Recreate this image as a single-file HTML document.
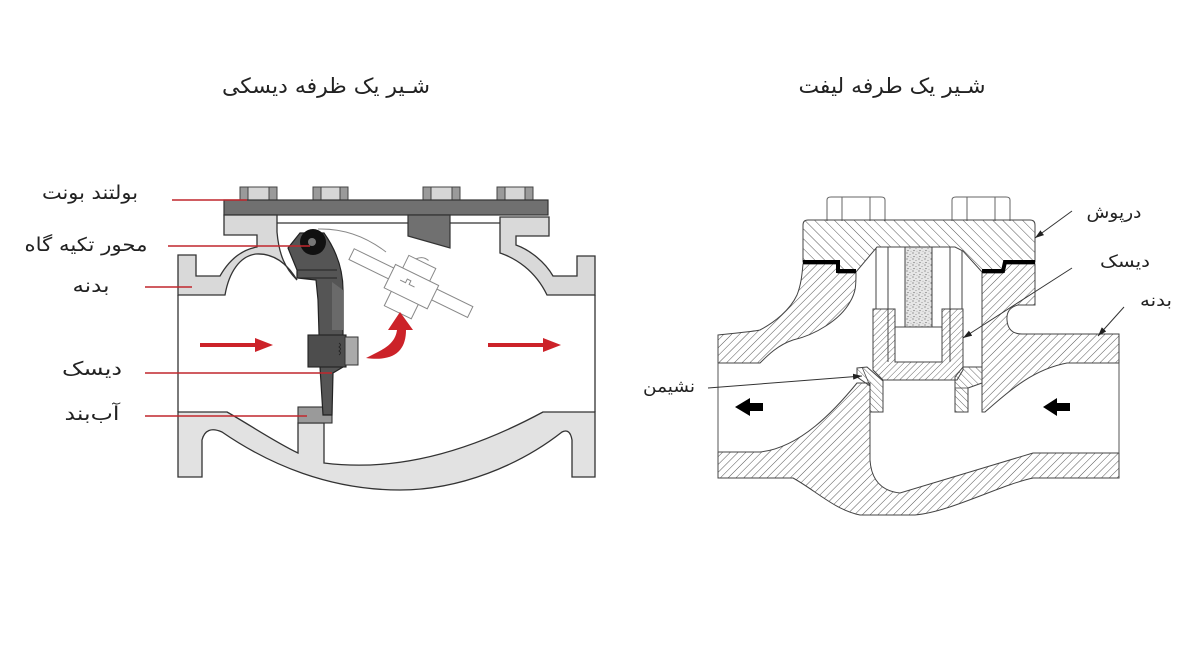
<!DOCTYPE html>
<html>
<head>
<meta charset="utf-8">
<style>
  html,body{margin:0;padding:0;background:#fff;}
  #wrap{width:1200px;height:653px;position:relative;overflow:hidden;background:#fff;}
  svg text{font-family:"DejaVu Sans","Liberation Sans",sans-serif;fill:#222;}
</style>
</head>
<body>
<div id="wrap">
<svg width="1200" height="653" viewBox="0 0 1200 653" xmlns="http://www.w3.org/2000/svg">
  <defs>
    <pattern id="hBody" width="5.5" height="5.5" patternUnits="userSpaceOnUse" patternTransform="rotate(45)">
      <line x1="0" y1="0" x2="0" y2="5.5" stroke="#444" stroke-width="0.9"/>
    </pattern>
    <pattern id="hBon" width="7" height="7" patternUnits="userSpaceOnUse" patternTransform="rotate(-45)">
      <line x1="0" y1="0" x2="0" y2="7" stroke="#444" stroke-width="0.9"/>
    </pattern>
    <pattern id="hDisc" width="4.5" height="4.5" patternUnits="userSpaceOnUse" patternTransform="rotate(45)">
      <line x1="0" y1="0" x2="0" y2="4.5" stroke="#444" stroke-width="0.8"/>
    </pattern>
    <pattern id="hRing" width="5" height="5" patternUnits="userSpaceOnUse" patternTransform="rotate(-45)">
      <line x1="0" y1="0" x2="0" y2="5" stroke="#444" stroke-width="0.8"/>
    </pattern>
    <pattern id="stip" width="6" height="6" patternUnits="userSpaceOnUse">
      <rect width="6" height="6" fill="#e6e6e6"/>
      <circle cx="1" cy="1" r="0.6" fill="#666"/>
      <circle cx="4" cy="2.5" r="0.55" fill="#888"/>
      <circle cx="2" cy="4.6" r="0.55" fill="#555"/>
      <circle cx="5" cy="5.3" r="0.45" fill="#999"/>
    </pattern>
    <marker id="ah" markerWidth="9" markerHeight="6" refX="9" refY="3" orient="auto" markerUnits="userSpaceOnUse">
      <path d="M0,0 L9,3 L0,6 Z" fill="#222"/>
    </marker>
  </defs>

  <!-- ================= TITLES ================= -->
  <text x="326" y="93" font-size="21" text-anchor="middle" textLength="208" lengthAdjust="spacingAndGlyphs">شـیر یک ظرفه دیسکی</text>
  <text x="892" y="93" font-size="21" text-anchor="middle" textLength="187" lengthAdjust="spacingAndGlyphs">شـیر یک طرفه لیفت</text>

  <!-- ================= LEFT DIAGRAM ================= -->
  <!-- bolts -->
  <g stroke="#444" stroke-width="1">
    <rect x="240" y="187" width="37" height="13" fill="#d6d6d6"/>
    <rect x="240" y="187" width="8" height="13" fill="#9a9a9a"/>
    <rect x="269" y="187" width="8" height="13" fill="#9a9a9a"/>
    <rect x="313" y="187" width="35" height="13" fill="#d6d6d6"/>
    <rect x="313" y="187" width="8" height="13" fill="#9a9a9a"/>
    <rect x="340" y="187" width="8" height="13" fill="#9a9a9a"/>
    <rect x="423" y="187" width="37" height="13" fill="#d6d6d6"/>
    <rect x="423" y="187" width="8" height="13" fill="#9a9a9a"/>
    <rect x="452" y="187" width="8" height="13" fill="#9a9a9a"/>
    <rect x="497" y="187" width="36" height="13" fill="#d6d6d6"/>
    <rect x="497" y="187" width="8" height="13" fill="#9a9a9a"/>
    <rect x="525" y="187" width="8" height="13" fill="#9a9a9a"/>
  </g>
  <!-- bonnet -->
  <rect x="224" y="200" width="324" height="15" fill="#707070" stroke="#333" stroke-width="1.2"/>
  <polygon points="408,215 450,215 450,248 408,236" fill="#707070" stroke="#333" stroke-width="1.2"/>

  <!-- body upper-left -->
  <path d="M178,255 L196,255 L196,276 L220,276 C228,262 240,250 257,247 L257,235 L224,235 L224,215 L277,215 L277,232 C279,255 285,268 297,280 C288,265 275,253 256,254 C240,256 229,272 225,295 L178,295 Z" fill="#d9d9d9" stroke="#333" stroke-width="1.3"/>
  <!-- body upper-right -->
  <path d="M500,217 L549,217 L549,236 L516,236 L516,245 C530,250 545,262 553,276 L577,276 L577,256 L595,256 L595,295 L547,295 C535,270 515,258 500,253 Z" fill="#d9d9d9" stroke="#333" stroke-width="1.3"/>
  <!-- body lower -->
  <path d="M178,412 L227,412 C250,425 275,442 298,453 L298,423 L324,423 L324,463 C380,470 450,462 543,412 L595,412 L595,477 L572,477 L572,440 Q570,428 562,432 C520,465 460,490 400,490 C330,490 270,465 222,432 Q206,425 202,440 L202,477 L178,477 Z" fill="#e2e2e2" stroke="#333" stroke-width="1.3"/>
  <!-- pipe face lines -->
  <line x1="178" y1="295" x2="178" y2="412" stroke="#333" stroke-width="1.3"/>
  <line x1="595" y1="295" x2="595" y2="412" stroke="#333" stroke-width="1.3"/>
  <line x1="277" y1="223" x2="408" y2="223" stroke="#333" stroke-width="1.2"/>
  <line x1="450" y1="223" x2="500" y2="223" stroke="#333" stroke-width="1.2"/>

  <!-- ghost open disc -->
  <path d="M318,229 Q355,228 386,252" fill="none" stroke="#888" stroke-width="1"/>
  <g transform="translate(313,242) rotate(26)" fill="#fff" stroke="#888" stroke-width="1">
    <rect x="40" y="-12" width="132" height="12"/>
    <rect x="92" y="-30" width="30" height="56"/>
    <rect x="84" y="-16" width="48" height="26"/>
    <path d="M100,-30 q5,-6 12,-4" fill="none"/>
    <path d="M95,-4 l6,0 l0,-4 l4,0 l0,4 l6,0" fill="none"/>
  </g>

  <!-- seat -->
  <rect x="298" y="407" width="34" height="16" fill="#9a9a9a" stroke="#333" stroke-width="1.1"/>
  <!-- disc arm -->
  <path d="M288,248 L300,233 L324,233 C336,250 343,268 343,290 L343,367 L333,373 L332,415 L323,415 L320,367 L318,300 L316,280 L297,278 L297,270 Z" fill="#555" stroke="#222" stroke-width="1.2"/>
  <path d="M332,282 L343,290 L343,330 L332,330 Z" fill="#6a6a6a"/>
  <line x1="297" y1="270" x2="337" y2="270" stroke="#222" stroke-width="1"/>
  <line x1="297" y1="278" x2="337" y2="278" stroke="#222" stroke-width="1"/>
  <rect x="308" y="335" width="38" height="32" fill="#4d4d4d" stroke="#222" stroke-width="1.1"/>
  <rect x="345" y="337" width="13" height="28" fill="#aaa" stroke="#333" stroke-width="1"/>
  <path d="M339,343 q3,2 0,4 q3,2 0,4 q3,2 0,4" fill="none" stroke="#222" stroke-width="0.8"/>
  <!-- pivot -->
  <circle cx="313" cy="242" r="13" fill="#111"/>
  <circle cx="312" cy="242" r="4" fill="#777"/>

  <!-- red arrows -->
  <g fill="#cc2229">
    <rect x="200" y="343" width="57" height="4"/>
    <polygon points="255,338 273,345 255,352"/>
    <rect x="488" y="343" width="57" height="4"/>
    <polygon points="543,338 561,345 543,352"/>
    <path d="M366,358 C382,350 395,345 397,330 L388,330 L400,312 L413,330 L406,330 C406,350 395,362 366,358 Z"/>
  </g>

  <!-- red leader lines -->
  <g stroke="#c1272d" stroke-width="1.6">
    <line x1="172" y1="200" x2="247" y2="200"/>
    <line x1="168" y1="246" x2="310" y2="246"/>
    <line x1="145" y1="287" x2="192" y2="287"/>
    <line x1="145" y1="373" x2="332" y2="373"/>
    <line x1="145" y1="416" x2="307" y2="416"/>
  </g>
  <!-- left labels -->
  <text x="90" y="199" font-size="19" text-anchor="middle" textLength="96" lengthAdjust="spacingAndGlyphs">بولتند بونت</text>
  <text x="86" y="251" font-size="19" text-anchor="middle" textLength="123" lengthAdjust="spacingAndGlyphs">محور تکیه گاه</text>
  <text x="91" y="292" font-size="19" text-anchor="middle" textLength="37" lengthAdjust="spacingAndGlyphs">بدنه</text>
  <text x="92" y="375" font-size="19" text-anchor="middle" textLength="60" lengthAdjust="spacingAndGlyphs">دیسک</text>
  <text x="92" y="420" font-size="19" text-anchor="middle" textLength="55" lengthAdjust="spacingAndGlyphs">آب&#8204;بند</text>

  <!-- ================= RIGHT DIAGRAM ================= -->
  <!-- bolts -->
  <g fill="#fff" stroke="#666" stroke-width="1">
    <path d="M827,221 L827,200 Q827,197 831,197 L881,197 Q885,197 885,200 L885,221"/>
    <line x1="842" y1="197" x2="842" y2="221"/>
    <line x1="870" y1="197" x2="870" y2="221"/>
    <path d="M952,221 L952,200 Q952,197 956,197 L1006,197 Q1010,197 1010,200 L1010,221"/>
    <line x1="967" y1="197" x2="967" y2="221"/>
    <line x1="995" y1="197" x2="995" y2="221"/>
  </g>

  <!-- bonnet -->
  <path d="M808,220 L1030,220 Q1035,220 1035,225 L1035,262 L1005,262 L1003,272 L982,272 L963,251 L955,247 L877,247 L856,272 L838,272 L838,262 L803,262 L803,225 Q803,220 808,220 Z" fill="url(#hBon)" stroke="#444" stroke-width="1"/>

  <!-- body upper-left -->
  <path d="M803,264 L838,264 L838,273 L856,273 C856,285 856,292 850,302 C840,320 815,335 793,340 C778,345 768,355 760,363 L718,363 L718,335 C735,333 750,332 760,330 C775,322 790,310 797,295 C801,285 802,275 803,264 Z" fill="url(#hBody)" stroke="#444" stroke-width="1"/>
  <!-- body upper-right -->
  <path d="M982,273 L1003,273 L1005,264 L1035,264 L1035,305 L1018,305 Q1006,308 1007,320 Q1008,334 1022,334 L1119,334 L1119,363 L1067,363 C1030,370 1005,395 985,412 L982,412 Z" fill="url(#hBody)" stroke="#444" stroke-width="1"/>
  <!-- body lower -->
  <path d="M718,452 L760,452 C800,448 835,410 857,383 L870,383 L870,460 Q872,490 900,493 L1033,453 L1119,453 L1119,478 L1033,478 C1000,485 950,512 915,515 L860,515 C835,510 815,490 793,478 L718,478 Z" fill="url(#hBody)" stroke="#444" stroke-width="1"/>
  <!-- pipe end lines -->
  <line x1="718" y1="363" x2="718" y2="452" stroke="#555" stroke-width="1"/>
  <line x1="1119" y1="363" x2="1119" y2="453" stroke="#555" stroke-width="1"/>

  <!-- gaskets -->
  <polyline points="803,262 838,262 838,271 856,271" fill="none" stroke="#000" stroke-width="4"/>
  <polyline points="982,271 1003,271 1005,262 1035,262" fill="none" stroke="#000" stroke-width="4"/>

  <!-- cavity walls / guide -->
  <g stroke="#444" stroke-width="1" fill="none">
    <line x1="876" y1="248" x2="876" y2="309"/>
    <line x1="962" y1="250" x2="962" y2="309"/>
    <line x1="888" y1="247" x2="888" y2="362"/>
    <line x1="950" y1="247" x2="950" y2="362"/>
  </g>
  <!-- stipple stem -->
  <rect x="905" y="247" width="27" height="80" fill="url(#stip)" stroke="#444" stroke-width="1"/>
  <line x1="895" y1="327" x2="942" y2="327" stroke="#444" stroke-width="1"/>

  <!-- disc cup -->
  <path d="M873,309 L895,309 L895,362 L942,362 L942,309 L963,309 L963,370 L957,380 L883,380 L873,370 Z" fill="url(#hDisc)" stroke="#444" stroke-width="1"/>
  <line x1="888" y1="309" x2="888" y2="362" stroke="#444" stroke-width="1"/>
  <line x1="950" y1="309" x2="950" y2="362" stroke="#444" stroke-width="1"/>

  <!-- seat rings -->
  <path d="M857,368 L867,367 L883,381 L883,412 L870,412 L870,386 L857,377 Z" fill="url(#hRing)" stroke="#444" stroke-width="1"/>
  <line x1="862" y1="367" x2="870" y2="386" stroke="#444" stroke-width="0.8"/>
  <path d="M963,367 L982,367 L982,383 L968,388 L968,412 L955,412 L955,377 Z" fill="url(#hRing)" stroke="#444" stroke-width="1"/>
  <line x1="955" y1="388" x2="968" y2="388" stroke="#444" stroke-width="0.8"/>

  <!-- black flow arrows -->
  <polygon points="735,407 750,398 750,403 763,403 763,411 750,411 750,416" fill="#000"/>
  <polygon points="1043,407 1057,398 1057,403 1070,403 1070,411 1057,411 1057,416" fill="#000"/>

  <!-- leaders -->
  <g stroke="#333" stroke-width="1" marker-end="url(#ah)">
    <line x1="1072" y1="211" x2="1035" y2="238"/>
    <line x1="1072" y1="268" x2="963" y2="338"/>
    <line x1="1124" y1="307" x2="1098" y2="336"/>
    <line x1="708" y1="388" x2="862" y2="376"/>
  </g>

  <!-- right labels -->
  <text x="1114" y="218" font-size="17" text-anchor="middle" textLength="55" lengthAdjust="spacingAndGlyphs">درپوش</text>
  <text x="1125" y="267" font-size="17" text-anchor="middle" textLength="50" lengthAdjust="spacingAndGlyphs">دیسک</text>
  <text x="1156" y="306" font-size="17" text-anchor="middle" textLength="32" lengthAdjust="spacingAndGlyphs">بدنه</text>
  <text x="669" y="392" font-size="17" text-anchor="middle" textLength="52" lengthAdjust="spacingAndGlyphs">نشیمن</text>
</svg>
</div>
</body>
</html>
